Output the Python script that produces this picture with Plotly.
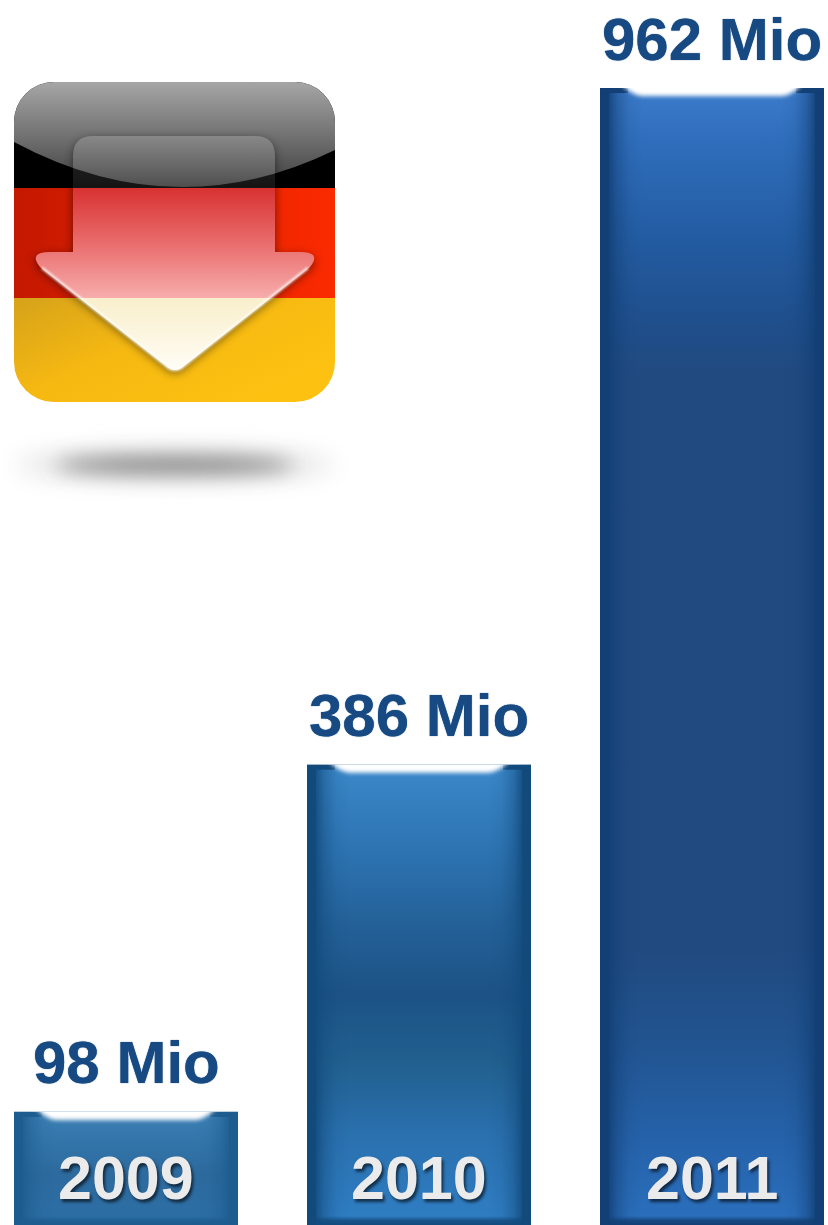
import base64
import plotly.graph_objects as go

# ---- data ----
years = ["2009", "2010", "2011"]
bar_heights = [98, 391, 962]          # Mio, as drawn
value_labels = ["98 Mio", "386 Mio", "962 Mio"]

# ---- layout ----
W, H = 828, 1225
PX_PER_MIO = 1.185
BASE_PX = 1228
STEP = 293
FIRST_CENTER = 126
BAR_PX = 224
BAR_W = BAR_PX / STEP
Y0 = (BASE_PX - H) / PX_PER_MIO
Y1 = BASE_PX / PX_PER_MIO
LABEL_SHIFT = 49
YEAR_CENTER_PX = 1178
LABEL_COLOR = "#174a82"
FONT = "Liberation Sans"

bar_styles = [
    dict(edge="#1d5c8e", stops=[(0, "#3b7fb4"), (.3, "#3274a8"), (.55, "#2d6a9e"), (1, "#2c6fa6")]),
    dict(edge="#124a7c", stops=[(0, "#3b88ca"), (.2, "#2c72b0"), (.36, "#235f96"), (.5, "#1c5285"),
                                (.65, "#21608f"), (.8, "#2a70ae"), (1, "#2f7ec4")]),
    dict(edge="#123f75", stops=[(0, "#3b7bca"), (.05, "#2f6dbb"), (.13, "#235ca2"), (.21, "#1f4e8b"),
                                (.25, "#214a80"), (.76, "#214a80"), (.84, "#215490"), (.92, "#2561a8"), (1, "#2b70be")]),
]


def uri(svg):
    return "data:image/svg+xml;base64," + base64.b64encode(svg.encode()).decode()


def bar_svg(style, h):
    w = BAR_PX
    stops = "".join(f'<stop offset="{o}" stop-color="{c}"/>' for o, c in style["stops"])
    e = style["edge"]
    side = f'<stop offset="0" stop-color="{e}" stop-opacity=".85"/><stop offset=".25" stop-color="{e}" stop-opacity=".42"/><stop offset=".6" stop-color="{e}" stop-opacity=".1"/><stop offset="1" stop-color="{e}" stop-opacity="0"/>'
    return f'''<svg xmlns="http://www.w3.org/2000/svg" width="{w}" height="{h}" viewBox="0 0 {w} {h}" preserveAspectRatio="none">
<defs>
<linearGradient id="v" x1="0" y1="0" x2="0" y2="1">{stops}</linearGradient>
<linearGradient id="l" x1="0" y1="0" x2="1" y2="0">{side}</linearGradient>
<linearGradient id="r" x1="1" y1="0" x2="0" y2="0">{side}</linearGradient>
<linearGradient id="bt" x1="0" y1="1" x2="0" y2="0"><stop offset="0" stop-color="{e}"/><stop offset=".5" stop-color="{e}" stop-opacity=".8"/><stop offset="1" stop-color="{e}" stop-opacity="0"/></linearGradient>
<filter id="b" x="-10%" y="-200%" width="120%" height="500%"><feGaussianBlur stdDeviation="2"/></filter>
</defs>
<rect width="{w}" height="{h}" fill="url(#v)"/>
<rect x="9" width="34" height="{h}" fill="url(#l)"/>
<rect x="{w-43}" width="34" height="{h}" fill="url(#r)"/>
<rect x="0" width="9" height="{h}" fill="{e}"/>
<rect x="{w-9}" width="9" height="{h}" fill="{e}"/>
<rect y="0" width="28" height="5" fill="{e}"/>
<rect x="{w-28}" y="0" width="28" height="5" fill="{e}"/>
<rect y="{h-9}" width="{w}" height="9" fill="url(#bt)"/>
<path d="M16,-12 L{w-16},-12 Q{w-28},7 {w-42},8 L42,8 Q28,7 16,-12 Z" fill="#ffffff" filter="url(#b)"/>
</svg>'''


ARROW = ("M73,252 L73,156 Q73,136 93,136 L255,136 Q275,136 275,156 L275,252 L300,252 "
         "Q322,252 310,267 L184,366 Q175,374 166,366 L40,267 Q28,252 50,252 Z")

ICON = f'''<svg xmlns="http://www.w3.org/2000/svg" width="360" height="440" viewBox="0 60 360 440" preserveAspectRatio="none">
<defs>
<clipPath id="c"><rect x="14" y="82" width="321" height="320" rx="40"/></clipPath>
<clipPath id="out"><path clip-rule="evenodd" d="M0,60 L360,60 L360,500 L0,500 Z {ARROW}"/></clipPath>
<clipPath id="in"><path d="{ARROW}"/></clipPath>
<linearGradient id="red" x1="0" y1="0" x2="1" y2="0"><stop offset="0" stop-color="#c41800"/><stop offset="1" stop-color="#fb2a00"/></linearGradient>
<linearGradient id="gold" x1="0" y1="0" x2="1" y2=".7"><stop offset="0" stop-color="#d5a21a"/><stop offset=".45" stop-color="#f5b812"/><stop offset="1" stop-color="#fdc211"/></linearGradient>
<linearGradient id="gloss" x1="0" y1="82" x2="0" y2="190" gradientUnits="userSpaceOnUse"><stop offset="0" stop-color="#a6a6a6"/><stop offset=".55" stop-color="#6c6c6c"/><stop offset="1" stop-color="#3c3c3c"/></linearGradient>
<linearGradient id="top" x1="0" y1="136" x2="0" y2="188" gradientUnits="userSpaceOnUse"><stop offset="0" stop-color="#fff" stop-opacity=".16"/><stop offset="1" stop-color="#fff" stop-opacity=".08"/></linearGradient>
<linearGradient id="pink" x1="0" y1="188" x2="0" y2="298" gradientUnits="userSpaceOnUse"><stop offset="0" stop-color="#d83232"/><stop offset=".5" stop-color="#ea6c6c"/><stop offset="1" stop-color="#f7acac"/></linearGradient>
<linearGradient id="cream" x1="0" y1="298" x2="0" y2="372" gradientUnits="userSpaceOnUse"><stop offset="0" stop-color="#f9efcc"/><stop offset="1" stop-color="#fffdf6"/></linearGradient>
<filter id="bl" x="-20%" y="-20%" width="140%" height="140%"><feGaussianBlur stdDeviation="5"/></filter>
<filter id="sh" x="-30%" y="-400%" width="160%" height="900%"><feGaussianBlur stdDeviation="10"/></filter>
<filter id="halo" x="-30%" y="-200%" width="160%" height="500%"><feGaussianBlur stdDeviation="12"/></filter>
<filter id="tiny" x="-10%" y="-10%" width="120%" height="120%"><feGaussianBlur stdDeviation=".8"/></filter>
</defs>
<ellipse cx="175" cy="465" rx="160" ry="16" fill="#e4e4e4" filter="url(#halo)"/>
<ellipse cx="175" cy="465" rx="120" ry="8" fill="#7a7a7a" filter="url(#sh)"/>
<g clip-path="url(#c)">
<rect x="14" y="82" width="321" height="106" fill="#000"/>
<rect x="14" y="188" width="321" height="110" fill="url(#red)"/>
<rect x="14" y="298" width="321" height="104" fill="url(#gold)"/>
<path d="M14,82 L335,82 L335,150 Q175,228 14,142 Z" fill="url(#gloss)"/>
<g clip-path="url(#out)"><path d="{ARROW}" fill="#000" opacity=".5" filter="url(#bl)" transform="translate(0,3)"/></g>
<g clip-path="url(#in)">
<rect x="14" y="130" width="321" height="58" fill="url(#top)"/>
<rect x="14" y="188" width="321" height="110" fill="url(#pink)"/>
<rect x="14" y="298" width="321" height="80" fill="url(#cream)"/>
</g>
<path d="M42,268 L166,366 Q175,374 184,366 L308,268" fill="none" stroke="#fff" stroke-opacity=".85" stroke-width="2.5" filter="url(#tiny)"/>
</g>
</svg>'''

centers = [i for i in range(len(years))]

fig = go.Figure(go.Bar(
    x=centers, y=bar_heights, width=BAR_W,
    marker=dict(color=[s["stops"][len(s["stops"]) // 2][1] for s in bar_styles], line_width=0),
    hoverinfo="skip",
))

images = [dict(source=uri(ICON), xref="paper", yref="paper", x=0, y=1 - 60 / H,
               sizex=360 / W, sizey=440 / H, sizing="stretch", layer="above",
               xanchor="left", yanchor="top")]
annotations = []
for i, (yr, v, lab, st) in enumerate(zip(years, bar_heights, value_labels, bar_styles)):
    h = (v - Y0) * PX_PER_MIO
    images.append(dict(source=uri(bar_svg(st, round(h))), xref="x", yref="y",
                       x=i - BAR_W / 2, y=v, sizex=BAR_W, sizey=v - Y0,
                       sizing="stretch", layer="above", xanchor="left", yanchor="top"))
    annotations.append(dict(x=i, y=v, xref="x", yref="y", text=lab, showarrow=False,
                            yanchor="middle", yshift=LABEL_SHIFT,
                            font=dict(family=FONT, size=60, color=LABEL_COLOR, weight=700,
                                      shadow="0 0 1px #174a82")))
    annotations.append(dict(x=i, y=1 - YEAR_CENTER_PX / H, xref="x", yref="paper", text=yr,
                            showarrow=False, yanchor="middle",
                            font=dict(family=FONT, size=61, color="#ebebeb", weight=700,
                                      shadow="2px 3px 3px rgba(0,0,0,0.6)")))

fig.update_layout(
    width=W, height=H, margin=dict(l=0, r=0, t=0, b=0),
    paper_bgcolor="#ffffff", plot_bgcolor="#ffffff", showlegend=False,
    xaxis=dict(visible=False, range=[-FIRST_CENTER / STEP, (W - FIRST_CENTER) / STEP]),
    yaxis=dict(visible=False, range=[Y0, Y1]),
    images=images, annotations=annotations,
)
fig.write_html("out.html", config={"displayModeBar": False},
               post_script="document.body.style.margin='0';document.body.style.overflow='hidden';")
